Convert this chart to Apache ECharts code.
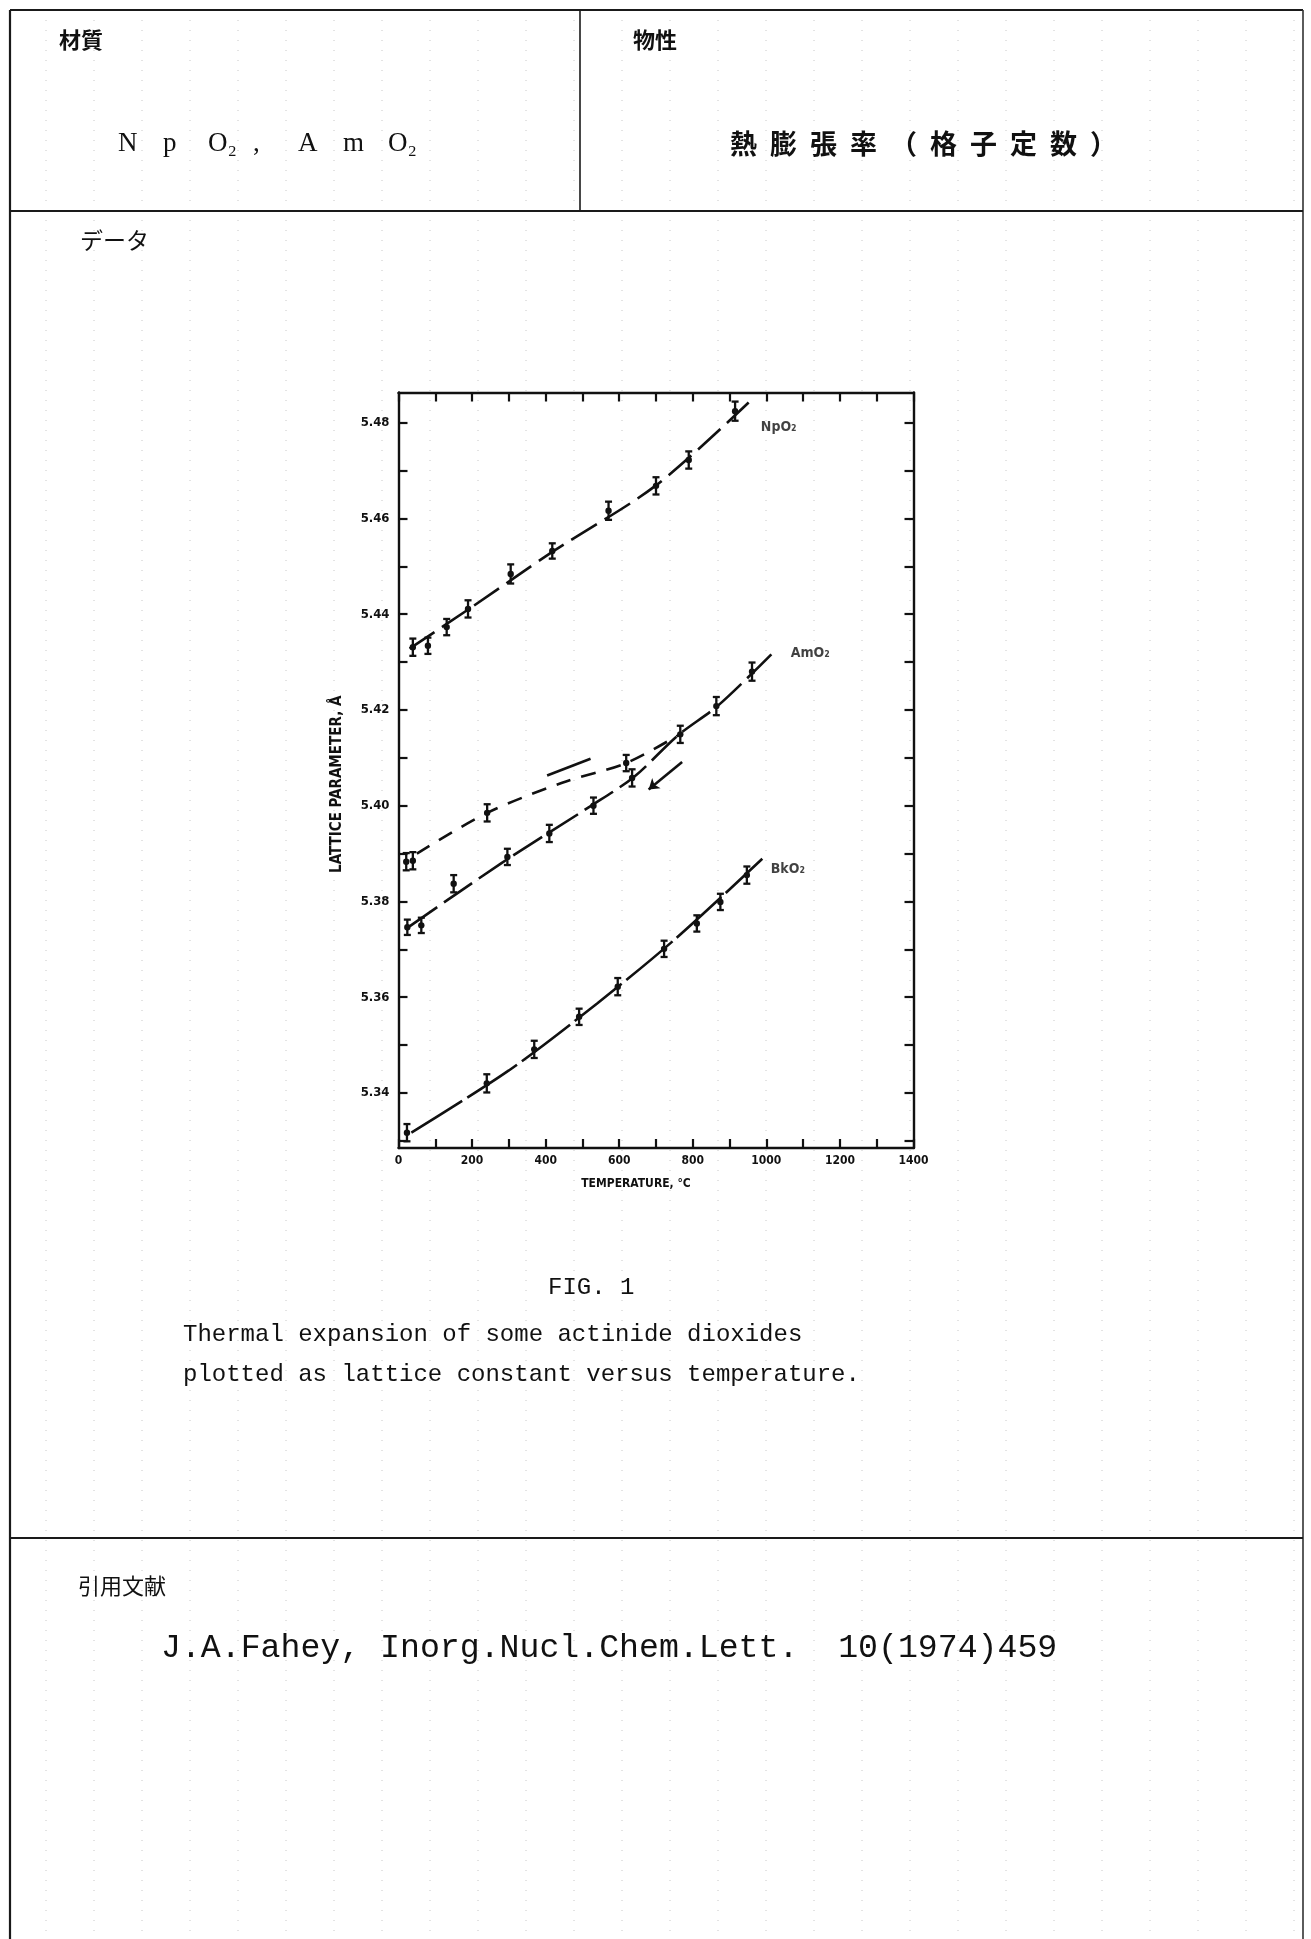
<!DOCTYPE html>
<html>
<head>
<meta charset="utf-8">
<script src="https://cdn.jsdelivr.net/npm/echarts@6/dist/echarts.min.js"></script>
<style>
  html, body { margin: 0; padding: 0; background: #ffffff; }
  #main { width: 1311px; height: 1939px; }
</style>
</head>
<body>
<div id="main"></div>
<script>
// ---- Measured lattice parameters (Å) against temperature (°C) ----
const npo2Temp = [39, 80, 131, 189, 305, 418, 571, 700, 789, 915];
const npo2Lat  = [5.4331, 5.4334, 5.4373, 5.4411, 5.4484, 5.4532, 5.4616, 5.4668, 5.4722, 5.4824];
const npo2Err  = [0.0018, 0.0017, 0.0017, 0.0018, 0.0020, 0.0016, 0.0019, 0.0018, 0.0018, 0.0020];

// AmO2, first heating run (upper, short-dashed curve)
const amo2HeatTemp = [21, 39, 241, 619];
const amo2HeatLat  = [5.3883, 5.3885, 5.3985, 5.4089];
const amo2HeatErr  = [0.0018, 0.0018, 0.0018, 0.0017];

// AmO2, lower curve and common high-temperature branch
const amo2Temp = [24, 62, 150, 296, 410, 530, 635, 766, 864, 961];
const amo2Lat  = [5.3746, 5.3750, 5.3837, 5.3893, 5.3942, 5.4000, 5.4058, 5.4149, 5.4208, 5.4280];
const amo2Err  = [0.0016, 0.0016, 0.0018, 0.0017, 0.0018, 0.0017, 0.0018, 0.0018, 0.0019, 0.0019];

const bko2Temp = [23, 240, 369, 491, 596, 722, 811, 875, 947];
const bko2Lat  = [5.3317, 5.3420, 5.3491, 5.3559, 5.3622, 5.3701, 5.3754, 5.3799, 5.3855];
const bko2Err  = [0.0018, 0.0019, 0.0018, 0.0017, 0.0018, 0.0017, 0.0017, 0.0017, 0.0018];

// ---- Smoothed curves drawn through the points ----
const npo2FitTemp = [30, 190, 420, 700, 960];
const npo2FitLat  = [5.4328, 5.4410, 5.4531, 5.4669, 5.4848];

const amo2HeatFitTemp = [50, 241, 445, 619, 760];
const amo2HeatFitLat  = [5.3900, 5.3985, 5.4048, 5.4089, 5.4147];

const amo2FitTemp = [30, 280, 520, 640, 760, 870, 1016];
const amo2FitLat  = [5.3748, 5.3880, 5.3998, 5.4060, 5.4147, 5.4210, 5.4318];

const bko2FitTemp = [35, 300, 540, 750, 989];
const bko2FitLat  = [5.3317, 5.3447, 5.3587, 5.3720, 5.3889];

// direction marks beside the AmO2 curves
const heatMarkTemp = [404, 522];
const heatMarkLat  = [5.4063, 5.4098];
const coolArrowTemp = [771, 680];
const coolArrowLat  = [5.4091, 5.4034];

// curve labels
const curveNames = ['NpO₂', 'AmO₂', 'BkO₂'];
const curveNameTemp = [985, 1066, 1012];
const curveNameLat  = [5.4790, 5.4318, 5.3866];

// ---- Axes ----
const xMin = 0, xMax = 1400, xStep = 100;
const xLabelValues = [0, 200, 400, 600, 800, 1000, 1200, 1400];
const yMin = 5.3285, yMax = 5.4863;
const yTickValues = [5.33, 5.34, 5.35, 5.36, 5.37, 5.38, 5.39, 5.40, 5.41, 5.42, 5.43, 5.44, 5.45, 5.46, 5.47, 5.48];
const yLabelValues = [5.34, 5.36, 5.38, 5.40, 5.42, 5.44, 5.46, 5.48];

function zip(a, b, c) { return a.map((v, i) => c ? [v, b[i], c[i]] : [v, b[i]]); }

const INK = '#111111';
const chartFont = '"DejaVu Sans Condensed", "Liberation Sans Narrow", sans-serif';
const jpFont = '"Noto Sans CJK JP", sans-serif';
const monoFont = '"Liberation Mono", "DejaVu Sans Mono", monospace';
const serifFont = '"Liberation Serif", serif';

// vertical error bar with caps and a dot at the measured value
function renderPoint(params, api) {
  const t = api.value(0), v = api.value(1), e = api.value(2);
  const c = api.coord([t, v]);
  const hi = api.coord([t, v + e])[1];
  const lo = api.coord([t, v - e])[1];
  const s = { stroke: INK, lineWidth: 2.3 };
  return {
    type: 'group',
    children: [
      { type: 'line', shape: { x1: c[0], y1: hi, x2: c[0], y2: lo }, style: s },
      { type: 'line', shape: { x1: c[0] - 3.5, y1: hi, x2: c[0] + 3.5, y2: hi }, style: s },
      { type: 'line', shape: { x1: c[0] - 3.5, y1: lo, x2: c[0] + 3.5, y2: lo }, style: s },
      { type: 'circle', shape: { cx: c[0], cy: c[1], r: 3.2 }, style: { fill: INK } }
    ]
  };
}

function pointSeries(name, t, v, e) {
  return {
    name: name, type: 'custom', renderItem: renderPoint,
    data: zip(t, v, e), encode: { x: 0, y: 1 }, z: 5, silent: true
  };
}

function curveSeries(name, t, v, dash) {
  return {
    name: name, type: 'line', data: zip(t, v), showSymbol: false, smooth: 0.3,
    lineStyle: { color: INK, width: 2.6, type: dash }, z: 3, silent: true
  };
}

// ---- Page form: ruled frame and headings ----
const W = 1311, H = 1939;
const L = 10, R = 1303, TOP = 10;
const ruleStyle = { stroke: '#1a1a1a', lineWidth: 2.2 };
const graphics = [];

// faint graph-paper columns of the form
for (let gx = 46; gx < R; gx += 48) {
  graphics.push({
    type: 'line', silent: true, z: -10,
    shape: { x1: gx, y1: TOP, x2: gx, y2: H },
    style: { stroke: '#c8c8c8', lineWidth: 1, lineDash: [1, 9] }
  });
}

graphics.push(
  { type: 'line', shape: { x1: L, y1: TOP, x2: R, y2: TOP }, style: ruleStyle },
  { type: 'line', shape: { x1: L, y1: TOP, x2: L, y2: H }, style: ruleStyle },
  { type: 'line', shape: { x1: R, y1: TOP, x2: R, y2: H }, style: { stroke: '#333', lineWidth: 1.6 } },
  { type: 'line', shape: { x1: 580, y1: TOP, x2: 580, y2: 211 }, style: { stroke: '#1a1a1a', lineWidth: 1.6 } },
  { type: 'line', shape: { x1: L, y1: 211, x2: R, y2: 211 }, style: ruleStyle },
  { type: 'line', shape: { x1: L, y1: 1538, x2: R, y2: 1538 }, style: ruleStyle }
);

function label(text, x, y, size, font, weight) {
  return {
    type: 'text', x: x, y: y, silent: true,
    style: {
      text: text, fill: INK,
      font: (weight ? weight + ' ' : '') + size + 'px ' + font,
      textVerticalAlign: 'middle', textAlign: 'left'
    }
  };
}

// characters laid out one by one with a fixed pitch
function spaced(chars, x0, y, pitch, size, font, weight) {
  chars.forEach((ch, i) => {
    graphics.push(label(ch, x0 + i * pitch, y, size, font, weight));
  });
}

graphics.push(label('材質', 59, 40, 22, jpFont, 'bold'));
graphics.push(label('物性', 633, 40, 22, jpFont, 'bold'));
spaced(['N', 'p', 'O₂', ',', 'A', 'm', 'O₂'], 118, 144, 45, 27, serifFont);
spaced(['熱', '膨', '張', '率', '（', '格', '子', '定', '数', '）'], 730, 144, 40, 27, jpFont, 'bold');
graphics.push(label('データ', 80, 240, 23, jpFont));

graphics.push(label('FIG. 1', 548, 1288, 24, monoFont));
graphics.push(label('Thermal expansion of some actinide dioxides', 183, 1335, 24, monoFont));
graphics.push(label('plotted as lattice constant versus temperature.', 183, 1375, 24, monoFont));

graphics.push(label('引用文献', 78, 1586, 22, jpFont));
graphics.push(label('J.A.Fahey, Inorg.Nucl.Chem.Lett.  10(1974)459', 161, 1648, 33.2, monoFont));

// ---- Chart ----
const axisLineStyle = { color: INK, width: 2.4 };
const tickStyle = { color: INK, width: 2.2 };
const labelStyle = { color: INK, fontFamily: chartFont, fontSize: 13, fontWeight: 'bold' };

const option = {
  animation: false,
  backgroundColor: '#ffffff',
  grid: { left: 398.5, top: 392.5, width: 515, height: 755.5, containLabel: false },
  xAxis: [
    {
      type: 'value', position: 'bottom', min: xMin, max: xMax, interval: xStep,
      axisLine: { show: true, onZero: false, lineStyle: axisLineStyle },
      axisTick: { show: true, inside: true, length: 9, lineStyle: tickStyle },
      axisLabel: {
        show: true, margin: 7, ...labelStyle, fontSize: 12,
        customValues: xLabelValues, formatter: v => String(v)
      },
      splitLine: { show: false },
      name: 'TEMPERATURE, °C', nameLocation: 'middle', nameGap: 30,
      nameTextStyle: { color: INK, fontFamily: chartFont, fontSize: 12, fontWeight: 'bold', padding: [0, 40, 0, 0] }
    },
    {
      type: 'value', position: 'top', min: xMin, max: xMax, interval: xStep,
      axisLine: { show: true, onZero: false, lineStyle: axisLineStyle },
      axisTick: { show: true, inside: true, length: 9, lineStyle: tickStyle },
      axisLabel: { show: false }, splitLine: { show: false }
    }
  ],
  yAxis: [
    {
      type: 'value', position: 'left', min: yMin, max: yMax,
      axisLine: { show: true, onZero: false, lineStyle: axisLineStyle },
      axisTick: { show: true, inside: true, length: 9, lineStyle: tickStyle, customValues: yTickValues },
      axisLabel: { show: true, margin: 9, ...labelStyle, customValues: yLabelValues, formatter: v => v.toFixed(2) },
      splitLine: { show: false },
      name: 'LATTICE PARAMETER, Å', nameLocation: 'middle', nameGap: 54, nameRotate: 90,
      nameTextStyle: { color: INK, fontFamily: chartFont, fontSize: 15, fontWeight: 'bold', padding: [0, 28, 0, 0] }
    },
    {
      type: 'value', position: 'right', min: yMin, max: yMax,
      axisLine: { show: true, onZero: false, lineStyle: axisLineStyle },
      axisTick: { show: true, inside: true, length: 9, lineStyle: tickStyle, customValues: yTickValues },
      axisLabel: { show: false }, splitLine: { show: false }
    }
  ],
  graphic: graphics,
  series: [
    curveSeries('NpO₂ curve', npo2FitTemp, npo2FitLat, [30, 9]),
    curveSeries('AmO₂ heating curve', amo2HeatFitTemp, amo2HeatFitLat, [15, 11]),
    curveSeries('AmO₂ curve', amo2FitTemp, amo2FitLat, [34, 8]),
    curveSeries('BkO₂ curve', bko2FitTemp, bko2FitLat, [60, 6]),
    {
      name: 'heating mark', type: 'line', data: zip(heatMarkTemp, heatMarkLat), showSymbol: false,
      lineStyle: { color: INK, width: 2.6 }, silent: true
    },
    {
      name: 'cooling arrow', type: 'lines', coordinateSystem: 'cartesian2d',
      data: [{ coords: zip(coolArrowTemp, coolArrowLat) }],
      symbol: ['none', 'arrow'], symbolSize: 10,
      lineStyle: { color: INK, width: 2.6, opacity: 1 }, silent: true
    },
    pointSeries('NpO₂', npo2Temp, npo2Lat, npo2Err),
    pointSeries('AmO₂ heating', amo2HeatTemp, amo2HeatLat, amo2HeatErr),
    pointSeries('AmO₂', amo2Temp, amo2Lat, amo2Err),
    pointSeries('BkO₂', bko2Temp, bko2Lat, bko2Err),
    {
      name: 'curve names', type: 'scatter', symbolSize: 0, silent: true,
      data: curveNames.map((n, i) => ({ value: [curveNameTemp[i], curveNameLat[i]], name: n })),
      label: {
        show: true, position: 'right', distance: 0, formatter: p => p.name,
        color: INK, fontFamily: chartFont, fontSize: 14, fontWeight: 'bold'
      }
    }
  ]
};

const chart = echarts.init(document.getElementById('main'), null, { renderer: 'canvas', width: W, height: H });
chart.setOption(option);
</script>
</body>
</html>
